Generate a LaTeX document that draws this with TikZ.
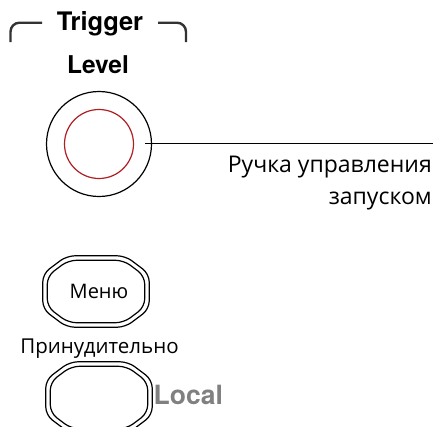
\documentclass[tikz,border=0pt]{standalone}
\usepackage{fontspec}
\setmainfont{Open Sans}
\newfontfamily\hvfont{TeX Gyre Heros}
\usetikzlibrary{calc}
\definecolor{knobred}{RGB}{175,30,35}
\definecolor{brk}{RGB}{51,51,51}
\definecolor{localgray}{RGB}{128,128,128}
\tikzset{
  headtxt/.style={inner sep=0pt, font=\hvfont\bfseries\fontsize{24.5}{28}\selectfont},
  ruslbl/.style={inner sep=0pt, font=\fontsize{23}{27}\selectfont},
  btnline/.style={line width=1.2pt, rounded corners=8pt},
  btnbox/.style={draw=none, minimum width=106pt, minimum height=71pt, inner sep=0pt},
  bracket/.style={draw=brk, line width=2.4pt, rounded corners=9pt},
}
\newcommand\octpath[3]{%
  \draw[btnline]
    ($(#1.north west)+(#2+#3,#2)$) --
    ($(#1.north east)+(-#2-#3,#2)$) --
    ($(#1.north east)+(-#2,#2+#3*0.75)$) --
    ($(#1.south east)+(-#2,-#2-#3*0.75)$) --
    ($(#1.south east)+(-#2-#3,-#2)$) --
    ($(#1.south west)+(#2+#3,-#2)$) --
    ($(#1.south west)+(#2,-#2-#3*0.75)$) --
    ($(#1.north west)+(#2,#2+#3*0.75)$) -- cycle;}
\begin{document}
\begin{tikzpicture}[x=1pt,y=-1pt]
\useasboundingbox (0,0) rectangle (436,426);
\clip (0,0) rectangle (436,426);
% header
\node[headtxt, anchor=base, font=\hvfont\bfseries\fontsize{25.5}{29}\selectfont] (trig) at (100,30) {Trigger};
\coordinate (bl1) at (10.5,42);
\coordinate (bl2) at (42,22.7);
\coordinate (br1) at (158,22.7);
\coordinate (br2) at (186,42);
\draw[bracket] (bl1) |- (bl2);
\draw[bracket] (br1) -| (br2);
\node[headtxt, anchor=base] (level) at (98,73) {Level};
% knob
\node[circle, draw, line width=1.2pt, minimum size=105pt, inner sep=0pt] (knob) at (99,144) {};
\node[circle, draw=knobred, line width=1.2pt, minimum size=69pt, inner sep=0pt] (knobin) at (99,144) {};
\coordinate (lstart) at (145,143);
\coordinate (lend) at (433,143);
\draw[line width=1pt] (lstart) -- (lend);
\node[ruslbl, anchor=base east] (lbl1) at (432,172) {Ручка управления};
\node[ruslbl, anchor=base east] (lbl2) at (432,204) {запуском};
% menu button
\node[btnbox] (menu) at (96,291.5) {};
\octpath{menu}{0}{24}
\octpath{menu}{4.5}{21}
\node[ruslbl, anchor=base, font=\fontsize{20}{24}\selectfont] (menutxt) at (99,298) {Меню};
% force
\node[ruslbl, anchor=base, font=\fontsize{20.5}{24}\selectfont] (force) at (99.5,353) {Принудительно};
\node[btnbox] (forcebtn) at (99,397.5) {};
\octpath{forcebtn}{0}{24}
\octpath{forcebtn}{4.5}{21}
\node[headtxt, anchor=base west, text=localgray, font=\hvfont\bfseries\fontsize{26.5}{30}\selectfont] (local) at (153.5,404) {Local};
\end{tikzpicture}
\end{document}
